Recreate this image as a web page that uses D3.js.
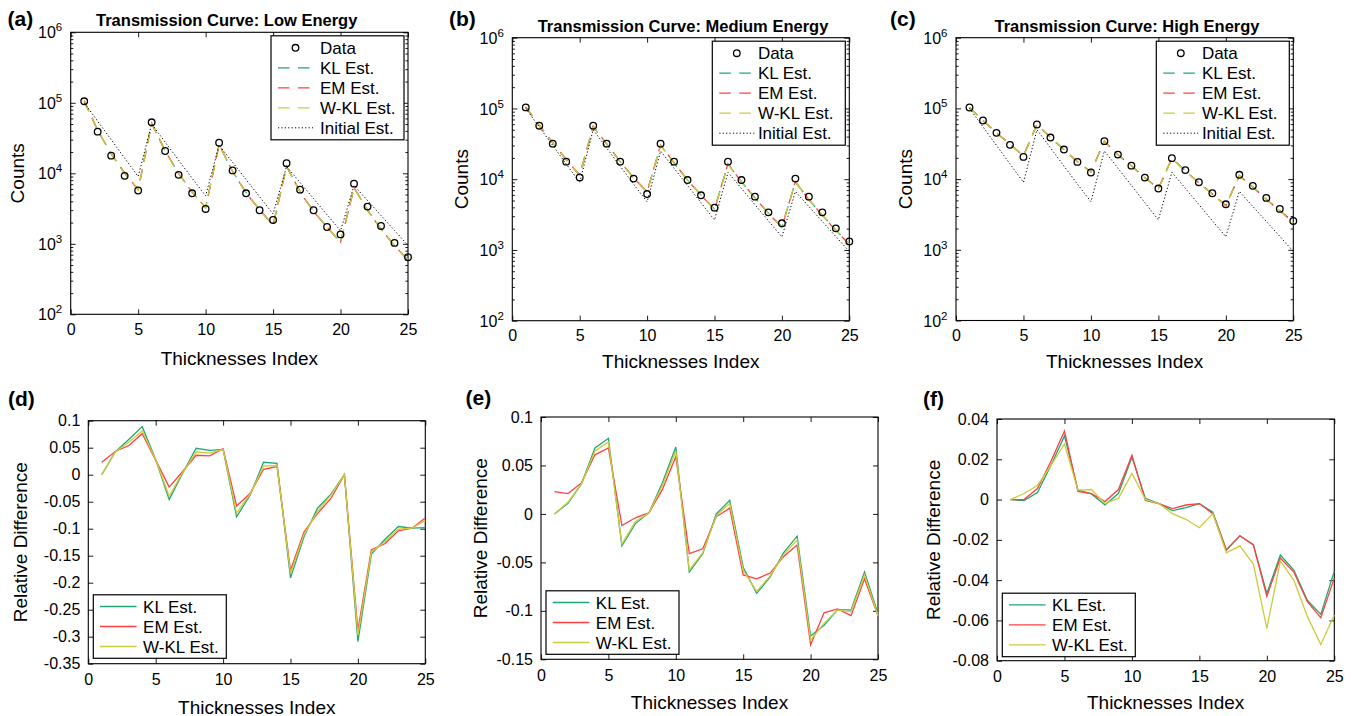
<!DOCTYPE html>
<html>
<head>
<meta charset="utf-8">
<script src="https://cdn.jsdelivr.net/npm/d3@7"></script>
<style>
  html, body { margin: 0; padding: 0; background: #fff; }
  svg { display: block; font-family: "Liberation Sans", Arial, Helvetica, sans-serif; }
</style>
</head>
<body>
<svg id="fig" width="1369" height="716"></svg>
<script>
// ---- data ----------------------------------------------------------------
const thicknessIndex = [1, 2, 3, 4, 5, 6, 7, 8, 9, 10, 11, 12, 13, 14, 15, 16, 17, 18, 19, 20, 21, 22, 23, 24, 25];

const countsLow    = [105000, 39000, 17800, 9200, 5700, 52900, 20700, 9500, 5200, 3120, 27200, 11000, 5200, 2990, 2180, 13900, 5860, 2990, 1730, 1360, 7130, 3370, 1790, 1030, 646];
const klLow        = [105000, 40700, 19040, 10100, 5860, 50570, 20760, 9990, 5450, 3270, 25230, 10600, 5320, 3050, 1830, 12470, 5520, 2890, 1730, 1040, 6220, 3010, 1630, 937, 588];
const emLow        = [107500, 40750, 18820, 9960, 5860, 51710, 20820, 9850, 5390, 3280, 25710, 10630, 5250, 3040, 1850, 12570, 5470, 2860, 1730, 1056, 6260, 2990, 1620, 937, 598];
const wklLow       = [105000, 40700, 18940, 10010, 5860, 50870, 20780, 9920, 5420, 3270, 25400, 10620, 5280, 3040, 1840, 12510, 5490, 2880, 1730, 1049, 6240, 3000, 1626, 937, 595];

const countsMedium = [103500, 57000, 31800, 17700, 10600, 57000, 31800, 17700, 10200, 6170, 31800, 17700, 9730, 5920, 3960, 17700, 9730, 5670, 3400, 2380, 10200, 5670, 3400, 2020, 1320];
const klMedium     = [103500, 57630, 32820, 18990, 11500, 55180, 31490, 17720, 10540, 6630, 30000, 17000, 9730, 6000, 3750, 16360, 9140, 5450, 3320, 2110, 9150, 5160, 3090, 1910, 1200];
const emMedium     = [105900, 58220, 32850, 18850, 11370, 56320, 31670, 17720, 10460, 6560, 30550, 17080, 9700, 5960, 3730, 16590, 9170, 5430, 3290, 2100, 9260, 5160, 3080, 1890, 1195];
const wklMedium    = [103500, 57690, 32820, 18930, 11450, 55290, 31550, 17720, 10500, 6600, 30060, 17020, 9710, 5990, 3740, 16390, 9140, 5440, 3310, 2110, 9160, 5160, 3090, 1900, 1195];

const countsHigh   = [103000, 67400, 45100, 30500, 20600, 59200, 38700, 26200, 17500, 12400, 34400, 22200, 15500, 10500, 7350, 19800, 13400, 9040, 6310, 4400, 11500, 8020, 5420, 3790, 2560];
const klHigh       = [103000, 67370, 45260, 31030, 21270, 59480, 38810, 26130, 17550, 12670, 34420, 22160, 15420, 10460, 7340, 19680, 13070, 8880, 6170, 4200, 11190, 7750, 5160, 3590, 2470];
const emHigh       = [103000, 67400, 45350, 31090, 21330, 59440, 38820, 26170, 17590, 12680, 34380, 22160, 15430, 10470, 7340, 19660, 13070, 8880, 6170, 4200, 11180, 7740, 5160, 3580, 2460];
const wklHigh      = [103000, 67600, 45420, 31030, 21180, 59480, 38890, 26150, 17510, 12560, 34400, 22160, 15390, 10400, 7250, 19660, 13060, 8840, 6110, 4140, 11160, 7710, 5120, 3540, 2420];

const initialEst   = [100000, 54800, 30000, 16400, 9000, 50000, 27700, 15300, 8500, 4800, 25000, 14300, 8150, 4650, 2650, 12500, 7400, 4370, 2580, 1530, 6700, 4110, 2520, 1550, 950];

const rdKLLow   = [0, 0.042, 0.065, 0.089, 0.028, -0.046, 0.003, 0.049, 0.045, 0.047, -0.078, -0.038, 0.023, 0.021, -0.191, -0.115, -0.062, -0.036, 0, -0.309, -0.147, -0.120, -0.096, -0.099, -0.098];
const rdEMLow   = [0.023, 0.043, 0.054, 0.076, 0.027, -0.023, 0.006, 0.036, 0.035, 0.048, -0.058, -0.035, 0.010, 0.015, -0.177, -0.106, -0.072, -0.044, 0, -0.288, -0.139, -0.128, -0.104, -0.099, -0.080];
const rdWKLLow  = [0, 0.042, 0.060, 0.081, 0.028, -0.040, 0.004, 0.042, 0.040, 0.047, -0.071, -0.036, 0.016, 0.017, -0.183, -0.111, -0.068, -0.038, 0, -0.297, -0.143, -0.124, -0.101, -0.099, -0.085];

const rdKLMed   = [0, 0.011, 0.031, 0.068, 0.078, -0.033, -0.010, 0.001, 0.032, 0.069, -0.060, -0.041, 0, 0.014, -0.055, -0.082, -0.065, -0.040, -0.023, -0.126, -0.115, -0.099, -0.099, -0.060, -0.103];
const rdEMMed   = [0.023, 0.021, 0.032, 0.061, 0.068, -0.012, -0.004, 0.001, 0.025, 0.059, -0.041, -0.036, -0.003, 0.006, -0.063, -0.067, -0.061, -0.044, -0.032, -0.135, -0.102, -0.098, -0.105, -0.067, -0.105];
const rdWKLMed  = [0, 0.012, 0.031, 0.065, 0.074, -0.031, -0.008, 0.001, 0.029, 0.065, -0.058, -0.040, -0.002, 0.011, -0.058, -0.080, -0.064, -0.042, -0.027, -0.130, -0.113, -0.099, -0.101, -0.063, -0.105];

const rdKLHigh  = [0, -0.0005, 0.0035, 0.017, 0.0316, 0.0047, 0.0028, -0.0027, 0.003, 0.021, 0.0006, -0.002, -0.0055, -0.004, -0.002, -0.0063, -0.025, -0.018, -0.0224, -0.0466, -0.0275, -0.035, -0.050, -0.057, -0.0355];
const rdEMHigh  = [0, 0, 0.0055, 0.019, 0.034, 0.004, 0.003, -0.001, 0.005, 0.022, -0.0005, -0.002, -0.0045, -0.0027, -0.002, -0.007, -0.025, -0.018, -0.0225, -0.048, -0.029, -0.036, -0.0507, -0.0586, -0.039];
const rdWKLHigh = [0, 0.003, 0.007, 0.017, 0.0276, 0.0047, 0.005, -0.002, 0.0006, 0.013, 0, -0.002, -0.007, -0.0098, -0.014, -0.007, -0.0264, -0.023, -0.032, -0.064, -0.0305, -0.040, -0.058, -0.072, -0.0573];

const xTicks       = [0, 5, 10, 15, 20, 25];
const countTicks   = [1e2, 1e3, 1e4, 1e5, 1e6];
const countExps    = ["2", "3", "4", "5", "6"];
const rdTicksLow   = [0.1, 0.05, 0, -0.05, -0.1, -0.15, -0.2, -0.25, -0.3, -0.35];
const rdTicksMed   = [0.1, 0.05, 0, -0.05, -0.1, -0.15];
const rdTicksHigh  = [0.04, 0.02, 0, -0.02, -0.04, -0.06, -0.08];

const estNames = ["KL Est.", "EM Est.", "W-KL Est."];

// ---- styling ---------------------------------------------------------------
const FONT = '"Liberation Sans", Arial, Helvetica, sans-serif';
const TICK_FS = 16, LEG_FS = 17, LAB_FS = 19;
const C_KL = "#1ea872", C_EM = "#ff4040", C_WKL = "#cbcb3e";
const estColors = [C_KL, C_EM, C_WKL];

const svg = d3.select("#fig");
svg.append("rect").attr("width", 1369).attr("height", 716).attr("fill", "#fff");

function styleAxis(sel) {
  sel.attr("font-family", FONT).attr("font-size", TICK_FS);
  sel.select(".domain").remove();
  sel.selectAll(".tick line").attr("stroke", "#000").attr("stroke-width", 0.9);
  sel.selectAll(".tick text").attr("fill", "#000");
}

function frame(g, x0, x1, y0, y1) {
  g.append("rect").attr("x", x0).attr("y", y0)
    .attr("width", x1 - x0).attr("height", y1 - y0)
    .attr("fill", "none").attr("stroke", "#000").attr("stroke-width", 1.1);
}

function xAxes(g, x, p) {
  g.append("g").attr("transform", `translate(0,${p.y1})`)
    .call(d3.axisBottom(x).tickValues(xTicks).tickSize(-5).tickSizeOuter(0).tickPadding(p.xPad))
    .call(styleAxis);
  g.append("g").attr("transform", `translate(0,${p.y0})`)
    .call(d3.axisTop(x).tickValues(xTicks).tickSize(-5).tickSizeOuter(0).tickFormat(""))
    .call(styleAxis);
}

function panelText(g, p, ylabel) {
  g.append("text").attr("x", p.labX).attr("y", p.labY)
    .attr("font-family", FONT).attr("font-weight", "bold").attr("font-size", 21)
    .text(p.label);
  g.append("text").attr("x", (p.x0 + p.x1) / 2).attr("y", p.xlabY)
    .attr("text-anchor", "middle").attr("font-family", FONT).attr("font-size", LAB_FS)
    .text("Thicknesses Index");
  g.append("text")
    .attr("transform", `translate(${p.ylabX},${(p.y0 + p.y1) / 2}) rotate(-90)`)
    .attr("text-anchor", "middle").attr("dy", "0.35em")
    .attr("font-family", FONT).attr("font-size", LAB_FS)
    .text(ylabel);
}

// ---- transmission curves (log scale) ---------------------------------------
const topPanels = [
  { label: "(a)", labX: 7.5, labY: 25.5, title: "Transmission Curve: Low Energy", titleX: 226.7, titleY: 26,
    x0: 70.7, x1: 408, y0: 32.3, y1: 314.3, ylabX: 17, xlabY: 364.5, xPad: 9, legTextDx: 49,
    counts: countsLow, est: [klLow, emLow, wklLow] },
  { label: "(b)", labX: 449, labY: 25.5, title: "Transmission Curve: Medium Energy", titleX: 683, titleY: 31.5,
    x0: 512.3, x1: 849.3, y0: 37.7, y1: 320.7, ylabX: 461, xlabY: 368, xPad: 9, legTextDx: 45.6,
    counts: countsMedium, est: [klMedium, emMedium, wklMedium] },
  { label: "(c)", labX: 890, labY: 25.5, title: "Transmission Curve: High Energy", titleX: 1127, titleY: 31.5,
    x0: 956, x1: 1293.3, y0: 37.7, y1: 320.5, ylabX: 905, xlabY: 368, xPad: 9, legTextDx: 45.6,
    counts: countsHigh, est: [klHigh, emHigh, wklHigh] }
];

topPanels.forEach(p => {
  const g = svg.append("g");
  const x = d3.scaleLinear().domain([0, 25]).range([p.x0, p.x1]);
  const y = d3.scaleLog().domain([1e2, 1e6]).range([p.y1, p.y0]);
  const minor = y.ticks().filter(v => !countTicks.includes(v));

  xAxes(g, x, p);
  [[d3.axisLeft, p.x0], [d3.axisRight, p.x1]].forEach(([ax, pos]) => {
    g.append("g").attr("transform", `translate(${pos},0)`)
      .call(ax(y).tickValues(countTicks).tickSize(-5).tickSizeOuter(0).tickFormat(""))
      .call(styleAxis);
    g.append("g").attr("transform", `translate(${pos},0)`)
      .call(ax(y).tickValues(minor).tickSize(-2.6).tickSizeOuter(0).tickFormat(""))
      .call(styleAxis);
  });

  // power-of-ten labels
  countTicks.forEach((v, i) => {
    const t = g.append("text").attr("x", p.x0 - 8.5).attr("y", y(v)).attr("dy", "0.38em")
      .attr("text-anchor", "end").attr("font-family", FONT).attr("font-size", TICK_FS);
    t.append("tspan").text("10");
    t.append("tspan").attr("dy", -7).attr("font-size", 11.5).text(countExps[i]);
  });

  frame(g, p.x0, p.x1, p.y0, p.y1);

  const line = d3.line().x((d, i) => x(thicknessIndex[i])).y(d => y(d));
  p.est.forEach((s, k) => {
    g.append("path").datum(s).attr("d", line).attr("fill", "none")
      .attr("stroke", estColors[k]).attr("stroke-width", 1.3)
      .attr("stroke-dasharray", "11,8");
  });
  g.append("path").datum(initialEst).attr("d", line).attr("fill", "none")
    .attr("stroke", "#000").attr("stroke-width", 1).attr("stroke-dasharray", "1.2,2.2");

  g.selectAll("circle.data").data(p.counts).join("circle")
    .attr("class", "data")
    .attr("cx", (d, i) => x(thicknessIndex[i])).attr("cy", d => y(d)).attr("r", 3.3)
    .attr("fill", "none").attr("stroke", "#000").attr("stroke-width", 1.3);

  g.append("text").attr("x", p.titleX).attr("y", p.titleY).attr("text-anchor", "middle")
    .attr("font-family", FONT).attr("font-weight", "bold").attr("font-size", 16.5)
    .text(p.title);
  panelText(g, p, "Counts");

  // legend
  const lw = 133, lh = 104;
  const lx = p.x1 - 4 - lw, ly = p.y0 + 3.5;
  const lg = g.append("g");
  lg.append("rect").attr("x", lx).attr("y", ly).attr("width", lw).attr("height", lh)
    .attr("fill", "#fff").attr("stroke", "#000").attr("stroke-width", 1.2);
  const items = ["Data"].concat(estNames, ["Initial Est."]);
  items.forEach((name, k) => {
    const yy = ly + 12 + 20 * k;
    if (k === 0) {
      lg.append("circle").attr("cx", lx + 24.5).attr("cy", yy).attr("r", 3.3)
        .attr("fill", "none").attr("stroke", "#000").attr("stroke-width", 1.3);
    } else {
      lg.append("line").attr("x1", lx + 7).attr("x2", lx + 42).attr("y1", yy).attr("y2", yy)
        .attr("stroke", k === 4 ? "#000" : estColors[k - 1])
        .attr("stroke-width", k === 4 ? 1 : 1.3)
        .attr("stroke-dasharray", k === 4 ? "1.2,2.2" : "11.5,8.5");
    }
    lg.append("text").attr("x", lx + p.legTextDx).attr("y", yy).attr("dy", "0.36em")
      .attr("font-family", FONT).attr("font-size", LEG_FS).text(name);
  });
});

// ---- relative differences ---------------------------------------------------
const bottomPanels = [
  { label: "(d)", labX: 8, labY: 406, x0: 88.3, x1: 425.3, y0: 420.7, y1: 663.7,
    dom: [-0.35, 0.1], ticks: rdTicksLow, ylabX: 20, xlabY: 713.5, xPad: 10,
    series: [rdKLLow, rdEMLow, rdWKLLow], legDx: 5, legBottom: 5.4 },
  { label: "(e)", labX: 465.5, labY: 404.5, x0: 541, x1: 878, y0: 417, y1: 659.3,
    dom: [-0.15, 0.1], ticks: rdTicksMed, ylabX: 480, xlabY: 708.5, xPad: 10,
    series: [rdKLMed, rdEMMed, rdWKLMed], legDx: 5, legBottom: 5 },
  { label: "(f)", labX: 923, labY: 406, x0: 997, x1: 1334.3, y0: 419, y1: 660.7,
    dom: [-0.08, 0.04], ticks: rdTicksHigh, ylabX: 933.3, xlabY: 708.5, xPad: 10,
    series: [rdKLHigh, rdEMHigh, rdWKLHigh], legDx: 5.3, legBottom: 4 }
];

bottomPanels.forEach(p => {
  const g = svg.append("g");
  const x = d3.scaleLinear().domain([0, 25]).range([p.x0, p.x1]);
  const y = d3.scaleLinear().domain(p.dom).range([p.y1, p.y0]);

  xAxes(g, x, p);
  g.append("g").attr("transform", `translate(${p.x0},0)`)
    .call(d3.axisLeft(y).tickValues(p.ticks).tickSize(-5).tickSizeOuter(0).tickPadding(8)
      .tickFormat(v => String(+v.toFixed(3))))
    .call(styleAxis);
  g.append("g").attr("transform", `translate(${p.x1},0)`)
    .call(d3.axisRight(y).tickValues(p.ticks).tickSize(-5).tickSizeOuter(0).tickFormat(""))
    .call(styleAxis);
  frame(g, p.x0, p.x1, p.y0, p.y1);

  const line = d3.line().x((d, i) => x(thicknessIndex[i])).y(d => y(d));
  p.series.forEach((s, k) => {
    g.append("path").datum(s).attr("d", line).attr("fill", "none")
      .attr("stroke", estColors[k]).attr("stroke-width", 1.3)
      .attr("stroke-linejoin", "miter");
  });

  panelText(g, p, "Relative Difference");

  // legend
  const lw = 133, lh = 63.5;
  const lx = p.x0 + p.legDx, ly = p.y1 - p.legBottom - lh;
  const lg = g.append("g");
  lg.append("rect").attr("x", lx).attr("y", ly).attr("width", lw).attr("height", lh)
    .attr("fill", "#fff").attr("stroke", "#000").attr("stroke-width", 1.2);
  estNames.forEach((name, k) => {
    const yy = ly + 11.7 + 20 * k;
    lg.append("line").attr("x1", lx + 6.7).attr("x2", lx + 43.3).attr("y1", yy).attr("y2", yy)
      .attr("stroke", estColors[k]).attr("stroke-width", 1.4);
    lg.append("text").attr("x", lx + 49.8).attr("y", yy).attr("dy", "0.36em")
      .attr("font-family", FONT).attr("font-size", LEG_FS).text(name);
  });
});
</script>
</body>
</html>
